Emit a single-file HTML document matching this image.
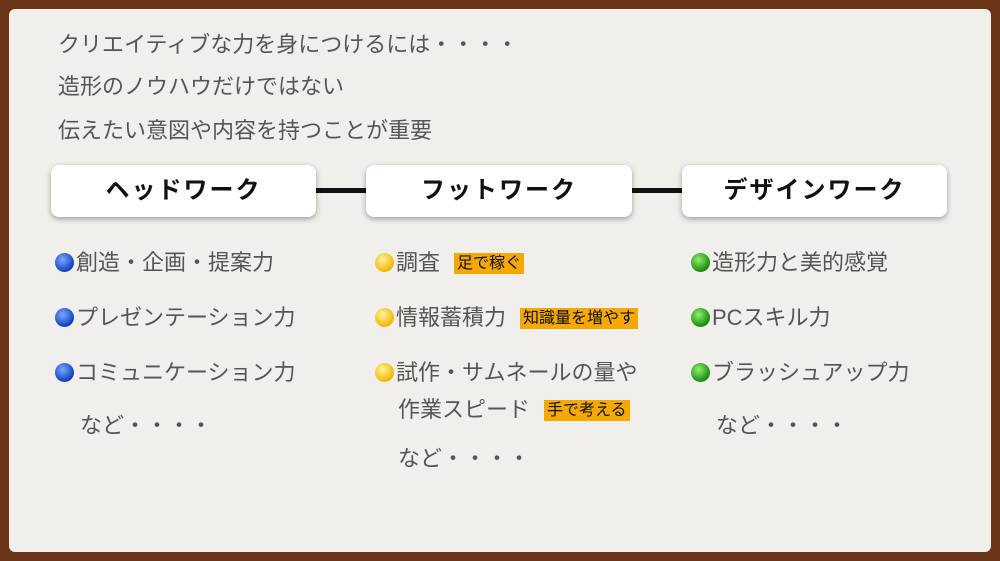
<!DOCTYPE html>
<html><head><meta charset="utf-8"><style>
body{margin:0;width:1000px;height:561px;background:#6b3518;overflow:hidden;font-family:"Liberation Sans","Noto Sans CJK JP",sans-serif;}
.paper{position:absolute;left:9px;top:9px;width:982px;height:543px;background:#f1efeb;border-radius:6px;}
.t{position:absolute;font-size:22px;color:#555;white-space:nowrap;line-height:26px;}
.box{position:absolute;top:165px;height:52px;background:#fff;border-radius:8px;box-shadow:0 2px 6px rgba(0,0,0,.35);font-size:24px;letter-spacing:2px;font-weight:bold;color:#111;text-align:center;line-height:52px;}
.ln{position:absolute;top:188px;height:5px;background:#111;}
.dot{display:inline-block;width:19px;height:19px;border-radius:50%;vertical-align:-2px;margin-right:2px;}
.b{background:radial-gradient(circle at 40% 35%,#7aa8ff,#1040c0 70%);}
.y{background:radial-gradient(circle at 40% 35%,#fff3a0,#f0b800 70%);}
.g{background:radial-gradient(circle at 40% 35%,#90f070,#1a8a10 70%);}
.tag{display:inline-block;background:#f5a800;color:#111;font-size:16px;line-height:21px;padding:0 3px;margin-left:14px;vertical-align:2px;}
</style></head><body>
<div class="paper"></div>
<div class="t" style="left:58px;top:32px">クリエイティブな力を身につけるには・・・・</div>
<div class="t" style="left:58px;top:74px">造形のノウハウだけではない</div>
<div class="t" style="left:58px;top:118px">伝えたい意図や内容を持つことが重要</div>
<div class="ln" style="left:314px;width:54px"></div>
<div class="ln" style="left:630px;width:54px"></div>
<div class="box" style="left:51px;width:265px">ヘッドワーク</div>
<div class="box" style="left:366px;width:266px">フットワーク</div>
<div class="box" style="left:682px;width:265px">デザインワーク</div>

<div class="t" style="left:55px;top:250px"><span class="dot b"></span>創造・企画・提案力</div>
<div class="t" style="left:55px;top:305px"><span class="dot b"></span>プレゼンテーション力</div>
<div class="t" style="left:55px;top:360px"><span class="dot b"></span>コミュニケーション力</div>
<div class="t" style="left:80px;top:413px">など・・・・</div>

<div class="t" style="left:375px;top:250px"><span class="dot y"></span>調査<span class="tag">足で稼ぐ</span></div>
<div class="t" style="left:375px;top:305px"><span class="dot y"></span>情報蓄積力<span class="tag">知識量を増やす</span></div>
<div class="t" style="left:375px;top:360px"><span class="dot y"></span>試作・サムネールの量や</div>
<div class="t" style="left:398px;top:397px">作業スピード<span class="tag">手で考える</span></div>
<div class="t" style="left:398px;top:446px">など・・・・</div>

<div class="t" style="left:691px;top:250px"><span class="dot g"></span>造形力と美的感覚</div>
<div class="t" style="left:691px;top:305px"><span class="dot g"></span>PCスキル力</div>
<div class="t" style="left:691px;top:360px"><span class="dot g"></span>ブラッシュアップ力</div>
<div class="t" style="left:716px;top:413px">など・・・・</div>
</body></html>
